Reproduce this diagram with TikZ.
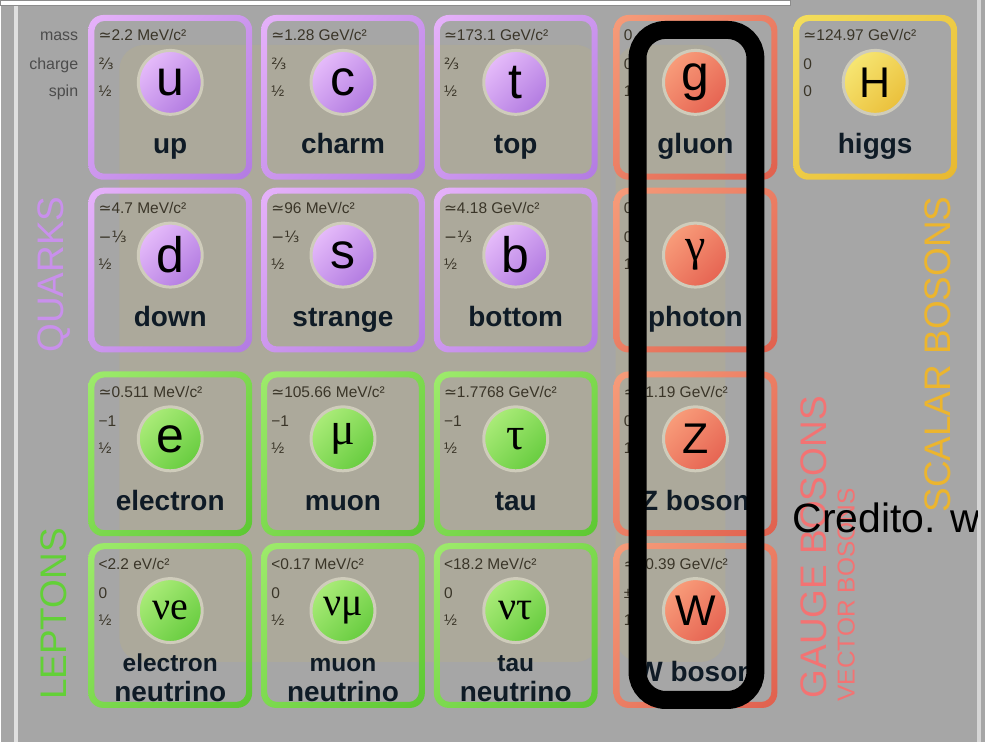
\documentclass[tikz,border=0pt]{standalone}
\usepackage{fontspec}
\setmainfont{Liberation Sans}
\newfontfamily\dvfont{DejaVu Sans}
\newfontfamily\grfont{Liberation Serif}
\usetikzlibrary{calc, shadings}

\definecolor{bggray}{HTML}{A6A6A6}
\definecolor{beige}{HTML}{ACA99B}
\definecolor{valtext}{HTML}{3A3528}
\definecolor{namecol}{HTML}{0F1B26}
\definecolor{ringcol}{HTML}{CFCCBB}
\definecolor{quarkhi}{HTML}{E6B2FA}
\definecolor{quarklo}{HTML}{B27BE2}
\definecolor{quarkballhi}{HTML}{F0C8FF}
\definecolor{quarkballlo}{HTML}{A86FDC}
\definecolor{leptonhi}{HTML}{9EEB6C}
\definecolor{leptonlo}{HTML}{5CC832}
\definecolor{leptonballhi}{HTML}{B8F284}
\definecolor{leptonballlo}{HTML}{5AC634}
\definecolor{gaugehi}{HTML}{F69C7A}
\definecolor{gaugelo}{HTML}{E0604E}
\definecolor{gaugeballhi}{HTML}{FCA882}
\definecolor{gaugeballlo}{HTML}{E2584A}
\definecolor{higgshi}{HTML}{F3DE5C}
\definecolor{higgslo}{HTML}{E8B830}
\definecolor{higgsballhi}{HTML}{F9EE7E}
\definecolor{higgsballlo}{HTML}{E8B830}
\colorlet{quarkmid}{quarkhi!50!quarklo}
\colorlet{quarkballmid}{quarkballhi!50!quarkballlo}
\colorlet{leptonmid}{leptonhi!50!leptonlo}
\colorlet{leptonballmid}{leptonballhi!50!leptonballlo}
\colorlet{gaugemid}{gaugehi!50!gaugelo}
\colorlet{gaugeballmid}{gaugeballhi!50!gaugeballlo}
\colorlet{higgsmid}{higgshi!50!higgslo}
\colorlet{higgsballmid}{higgsballhi!50!higgsballlo}
\definecolor{quarkcol}{HTML}{C990EC}
\definecolor{leptoncol}{HTML}{63D037}
\definecolor{gaugecol}{HTML}{F37373}
\definecolor{scalarcol}{HTML}{ECB52E}

\newcommand{\sapprox}{{\dvfont ≃}}
\newcommand{\lsym}[1]{{\fontsize{50}{50}\selectfont #1}}
\newcommand{\usym}[1]{{\fontsize{43}{43}\selectfont #1}}
\newcommand{\gsym}[1]{{\grfont\fontsize{46}{46}\selectfont #1}}
\newcommand{\nusym}[1]{{\grfont\fontsize{40}{40}\selectfont ν#1}}
\newcommand{\nulabel}[1]{\fontsize{24.5}{27}\selectfont #1\\neutrino}

% one particle cell: name, x, y, family, mass, charge, spin, symbol, label
\newcommand{\pcell}[9]{%
  \shade[even odd rule, upper left=#4hi, lower right=#4lo, upper right=#4mid, lower left=#4mid]
    [rounded corners=15pt] (#2,#3) rectangle ++(164,165)
    [rounded corners=10pt] (#2+6,#3+6) rectangle ++(152,153);
  \node[ball, upper left=#4ballhi, lower right=#4balllo, upper right=#4ballmid, lower left=#4ballmid]
    (#1) at (#2+82,#3+67.5) {#8};
  \node[value] (#1-mass) at (#2+10,#3+26) {#5};
  \node[value] (#1-charge) at (#2+10,#3+55) {#6};
  \node[value] (#1-spin) at (#2+10,#3+82) {#7};
  \node[pname] (#1-name) at (#2+82,#3+133) {\strut #9};
}

\begin{document}
\begin{tikzpicture}[
    x=1pt, y=-1pt,
    ball/.style={circle, minimum size=64pt, inner sep=0pt, draw=ringcol, line width=3pt, text=black},
    value/.style={anchor=base west, inner sep=0pt, text=valtext, font=\fontsize{15.5}{18}\selectfont},
    pname/.style={anchor=center, inner sep=0pt, align=center, text=namecol, font=\bfseries\fontsize{28}{30}\selectfont},
    sidelabel/.style={anchor=base east, inner sep=0pt, text=black!70, font=\fontsize{16}{18}\selectfont},
    grouplabel/.style={rotate=90, inner sep=0pt, font=\fontsize{37}{37}\selectfont},
    highlight/.style={draw=black, line width=18pt, rounded corners=28pt}
]
    % page, frame lines and shaded interaction areas
    \fill[bggray] (0,0) rectangle (985,743);
    \fill[white, draw=black!45, line width=1pt] (-1,1) rectangle (790,6);
    \fill[black!12] (13,6) rectangle (17,743);
    \fill[black!16] (977,0) rectangle (981,743);
    \fill[beige, rounded corners=25pt] (118,45) rectangle (600,663);
    \fill[beige, rounded corners=25pt] (615,45) rectangle (725,663);
    % row captions
    \node[sidelabel] (masscap) at (77,41) {mass};
    \node[sidelabel] (chargecap) at (77,70) {charge};
    \node[sidelabel] (spincap) at (77,97) {spin};
    % quarks
    \pcell{up}{87}{15}{quark}{\sapprox2.2 MeV/c²}{{\dvfont ⅔}}{½}{\lsym{u}}{up}
    \pcell{charm}{260}{15}{quark}{\sapprox1.28 GeV/c²}{{\dvfont ⅔}}{½}{\lsym{c}}{charm}
    \pcell{top}{433}{15}{quark}{\sapprox173.1 GeV/c²}{{\dvfont ⅔}}{½}{\lsym{t}}{top}
    \pcell{down}{87}{188}{quark}{\sapprox4.7 MeV/c²}{{\dvfont −⅓}}{½}{\lsym{d}}{down}
    \pcell{strange}{260}{188}{quark}{\sapprox96 MeV/c²}{{\dvfont −⅓}}{½}{\lsym{s}}{strange}
    \pcell{bottom}{433}{188}{quark}{\sapprox4.18 GeV/c²}{{\dvfont −⅓}}{½}{\lsym{b}}{bottom}
    % leptons
    \pcell{electron}{87}{372}{lepton}{\sapprox0.511 MeV/c²}{−1}{½}{\lsym{e}}{electron}
    \pcell{muon}{260}{372}{lepton}{\sapprox105.66 MeV/c²}{−1}{½}{\gsym{μ}}{muon}
    \pcell{tau}{433}{372}{lepton}{\sapprox1.7768 GeV/c²}{−1}{½}{\gsym{τ}}{tau}
    \pcell{nue}{87}{544}{lepton}{<2.2 eV/c²}{0}{½}{\nusym{e}}{\nulabel{electron}}
    \pcell{numu}{260}{544}{lepton}{<0.17 MeV/c²}{0}{½}{\nusym{μ}}{\nulabel{muon}}
    \pcell{nutau}{433}{544}{lepton}{<18.2 MeV/c²}{0}{½}{\nusym{τ}}{\nulabel{tau}}
    % gauge bosons and higgs
    \pcell{gluon}{613}{15}{gauge}{0}{0}{1}{\lsym{g}}{gluon}
    \pcell{photon}{613}{188}{gauge}{0}{0}{1}{\gsym{γ}}{photon}
    \pcell{zboson}{613}{372}{gauge}{\sapprox91.19 GeV/c²}{0}{1}{\usym{Z}}{Z boson}
    \pcell{wboson}{613}{544}{gauge}{\sapprox80.39 GeV/c²}{±1}{1}{\usym{W}}{W boson}
    \pcell{higgs}{793}{15}{higgs}{\sapprox124.97 GeV/c²}{0}{0}{\usym{H}}{higgs}
    % group captions
    \node[grouplabel, text=quarkcol] (quarks) at (53,275) {QUARKS};
    \node[grouplabel, text=leptoncol] (leptons) at (52,615) {LEPTONS};
    \node[grouplabel, text=gaugecol] (gauge) at (814,548) {GAUGE BOSONS};
    \node[grouplabel, text=gaugecol, font=\fontsize{24.5}{24.5}\selectfont] (vector) at (846,596) {VECTOR BOSONS};
    \node[grouplabel, text=scalarcol] (scalar) at (938,355) {SCALAR BOSONS};
    % marked column
    \draw[highlight] (637,30) rectangle (755,701);
    \begin{scope}
        \clip (0,0) rectangle (977,743);
        \node[anchor=base west, inner sep=0pt, font=\fontsize{41}{41}\selectfont] (credit) at (792,533) {Credito. w};
    \end{scope}
\end{tikzpicture}
\end{document}
